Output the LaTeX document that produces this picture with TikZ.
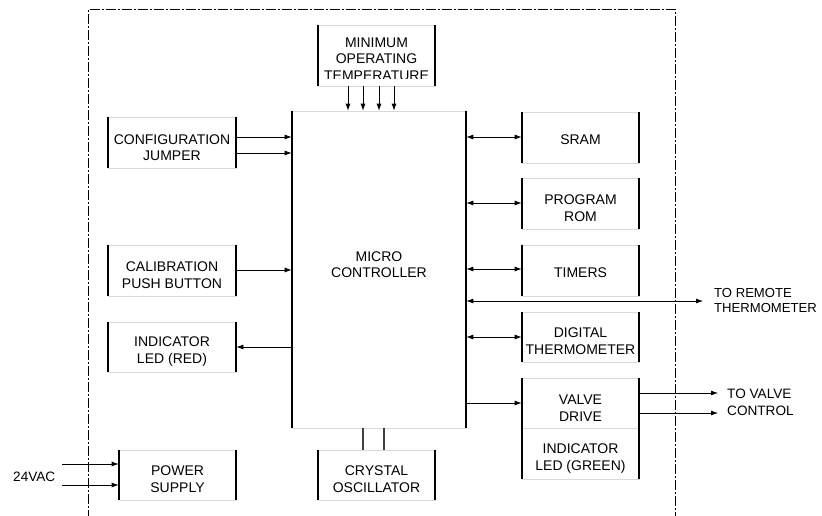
\documentclass[tikz,border=0pt]{standalone}
\usepackage{fontspec}
\setmainfont{Liberation Sans}
\usetikzlibrary{arrows.meta}
\newcommand\mkbox[7]{%
  \node[blk, minimum width=#4pt, minimum height=#5pt] (#1) at (#2,#3) {};
  \node[txt] (#1t) at ([yshift=-#6pt]#1.center) {#7};}
\begin{document}
\begin{tikzpicture}[x=1pt,y=-1pt,
  blk/.style={draw=black!15, line width=0.6pt, inner sep=0pt},
  side/.style={line width=1.7pt, black},
  arr/.style={line width=0.8pt, -{Latex[length=7pt,width=5pt]}},
  darr/.style={line width=0.8pt, {Latex[length=7pt,width=5pt]}-{Latex[length=7pt,width=5pt]}},
  lbl/.style={font=\fontsize{13.6}{16.8}\selectfont, align=left, inner sep=0pt},
  txt/.style={font=\fontsize{14}{16.5}\selectfont, align=center, inner sep=0pt},
  frame/.style={line width=0.9pt, dash pattern=on 10pt off 2pt on 2pt off 2pt},
  wire/.style={line width=1.4pt, black!75}
]
\useasboundingbox (0,0) rectangle (822,516);
\fill[white] (0,0) rectangle (822,516);

% outer dash-dot frame
\draw[frame] (88,520) -- (88,9.5) -- (675,9.5) -- (675,520);

% minimum operating temperature (text clipped as in the original)
\node[blk, minimum width=117pt, minimum height=61pt] (mot) at (376.5,55.5) {};
\begin{scope}
  \clip (318,20) rectangle (435,78.3);
  \node[txt] (mott) at (376.5,58.8) {MINIMUM\\OPERATING\\TEMPERATURE};
\end{scope}

% micro controller
\node[blk, minimum width=174pt, minimum height=317pt] (mcu) at (379,269.5) {};
\node[txt] (mcut) at (379,264.5) {MICRO\\CONTROLLER};

% blocks
\mkbox{cfg}{172}{142.5}{128}{51}{5}{CONFIGURATION\\JUMPER}
\mkbox{cal}{172}{270.5}{128}{51}{4.5}{CALIBRATION\\PUSH BUTTON}
\mkbox{red}{172}{347}{128}{50}{4.7}{INDICATOR\\LED (RED)}
\mkbox{sram}{580.5}{137.5}{117}{51}{2.5}{SRAM}
\mkbox{rom}{580.5}{203.5}{117}{51}{4.8}{PROGRAM\\ROM}
\mkbox{tim}{580.5}{270.5}{117}{51}{2}{TIMERS}
\mkbox{dig}{580.5}{337}{117}{50}{4.3}{DIGITAL\\THERMOMETER}
\mkbox{valve}{580.5}{403}{117}{50}{5}{VALVE\\DRIVE}
\mkbox{green}{580.5}{453.5}{117}{51}{5}{INDICATOR\\LED (GREEN)}
\mkbox{pwr}{177.5}{475}{117}{50}{4.3}{POWER\\SUPPLY}
\mkbox{xtal}{376.5}{475}{117}{50}{4.3}{CRYSTAL\\OSCILLATOR}

% thick side edges
\foreach \n in {mot,mcu,cfg,cal,red,sram,rom,tim,dig,valve,green,pwr,xtal}
  \draw[side] (\n.north west) -- (\n.south west) (\n.north east) -- (\n.south east);

% min operating temperature -> mcu
\foreach \x in {348,363,379,394}
  \draw[arr] (\x,0 |- mot.south) -- (\x,0 |- mcu.north);

% left side
\draw[arr] (cfg.east |- 0,137) -- (mcu.west |- 0,137);
\draw[arr] (cfg.east |- 0,153) -- (mcu.west |- 0,153);
\draw[arr] (cal.east |- 0,270) -- (mcu.west |- 0,270);
\draw[arr] (mcu.west |- 0,347) -- (red.east |- 0,347);

% right side
\draw[darr] (mcu.east |- 0,137) -- (sram.west |- 0,137);
\draw[darr] (mcu.east |- 0,203) -- (rom.west |- 0,203);
\draw[darr] (mcu.east |- 0,269) -- (tim.west |- 0,269);
\draw[darr] (mcu.east |- 0,337) -- (dig.west |- 0,337);
\draw[arr] (mcu.east |- 0,403) -- (valve.west |- 0,403);

\coordinate (remote) at (703,301);
\draw[darr] (mcu.east |- remote) -- (remote);
\node[lbl, font=\fontsize{13.1}{15}\selectfont, anchor=west] (remotetxt) at (714,300.7) {TO REMOTE\\THERMOMETER};

\coordinate (vout1) at (718,393);
\coordinate (vout2) at (718,413);
\draw[arr] (valve.east |- vout1) -- (vout1);
\draw[arr] (valve.east |- vout2) -- (vout2);
\node[lbl, anchor=west] (valvetxt) at (727,402.6) {TO VALVE\\CONTROL};

% power input
\coordinate (ac1) at (62,464);
\coordinate (ac2) at (62,485);
\draw[arr] (ac1) -- (pwr.west |- ac1);
\draw[arr] (ac2) -- (pwr.west |- ac2);
\node[lbl, anchor=east] (actxt) at (55.5,476.7) {24VAC};

% crystal oscillator wires
\draw[wire] (363,0 |- mcu.south) -- (363,0 |- xtal.north);
\draw[wire] (384,0 |- mcu.south) -- (384,0 |- xtal.north);
\end{tikzpicture}
\end{document}
